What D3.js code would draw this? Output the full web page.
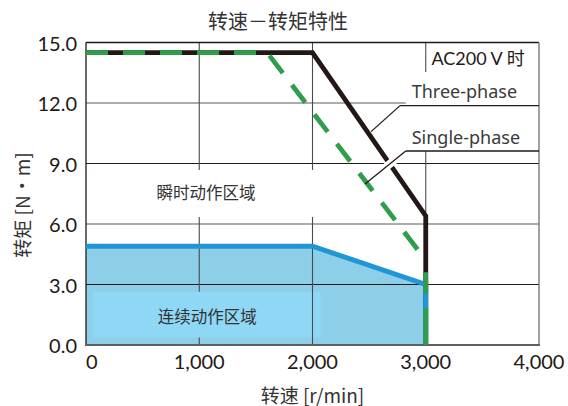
<!DOCTYPE html>
<html>
<head>
<meta charset="utf-8">
<script src="https://cdn.jsdelivr.net/npm/d3@7"></script>
<style>
  body { margin: 0; background: #fff; }
  svg { display: block; }
  .cjk { font-family: "Noto Sans CJK SC", sans-serif; fill: #333; }
  .num { font-family: Lato, "Noto Sans CJK SC", sans-serif; fill: #231815; }
  .lbl { font-family: "Noto Sans", sans-serif; fill: #3a3a3a; }
</style>
</head>
<body>
<svg id="chart"></svg>
<script>
// values
const speedTicks = [0, 1000, 2000, 3000, 4000];
const torqueTicks = [0, 3, 6, 9, 12, 15];
const threePhase = [[0, 14.5], [2000, 14.5], [3000, 6.4], [3000, 0]];
const singlePhase = [[0, 14.5], [1600, 14.5], [3000, 4.2], [3000, 0]];
const continuous = [[0, 4.9], [2000, 4.9], [3000, 3.0], [3000, 0]];

const W = 568, H = 406;
const margin = { top: 42.5, right: 29, bottom: 61, left: 86 };

const svg = d3.select("#chart").attr("width", W).attr("height", H);

const x = d3.scaleLinear().domain([0, 4000]).range([margin.left, W - margin.right]);
const y = d3.scaleLinear().domain([0, 15]).range([H - margin.bottom, margin.top]);

const line = d3.line().x(d => x(d[0])).y(d => y(d[1]));

// continuous operating area fill
svg.append("path")
  .datum([[0, 0]].concat(continuous))
  .attr("d", d => line(d) + "Z")
  .attr("fill", "#8dcee9");

// horizontal grid
svg.selectAll(".hgrid")
  .data(torqueTicks.filter(t => t > 0 && t < 15))
  .enter().append("line")
  .attr("class", "hgrid")
  .attr("x1", x(0))
  .attr("x2", t => t === 12 ? x(2823) : x(4000))
  .attr("y1", t => y(t)).attr("y2", t => y(t))
  .attr("stroke", t => t === 3 || t === 9 ? "#231815" : "#5a5a5a")
  .attr("stroke-width", 1.1);

// vertical grid segments (gaps where labels sit)
const vSegs = [
  [1000, 15, 8.68], [1000, 6.35, 0],
  [2000, 15, 8.68], [2000, 6.35, 0],
  [3000, 15, 13.54], [3000, 9.62, 0]
];
function drawV(segs) {
  svg.selectAll(null).data(segs).enter().append("line")
    .attr("x1", d => x(d[0])).attr("x2", d => x(d[0]))
    .attr("y1", d => y(d[1])).attr("y2", d => y(d[2]))
    .attr("stroke", "#4a4a4a")
    .attr("stroke-width", 1.1);
}
drawV(vSegs.filter(d => d[0] === 1000));

// label box of continuous area
svg.append("rect")
  .attr("x", x(60)).attr("width", x(2070) - x(60))
  .attr("y", y(2.64)).attr("height", y(0.37) - y(2.64))
  .attr("fill", "#8fd8f5");

drawV(vSegs.filter(d => d[0] !== 1000));

// frame
svg.append("line").attr("x1", x(0)).attr("x2", x(4000)).attr("y1", y(15)).attr("y2", y(15))
  .attr("stroke", "#231815").attr("stroke-width", 1.3);
svg.append("line").attr("x1", x(0)).attr("x2", x(0)).attr("y1", y(15)).attr("y2", y(0))
  .attr("stroke", "#231815").attr("stroke-width", 1.3);
svg.append("line").attr("x1", x(4000)).attr("x2", x(4000)).attr("y1", y(15)).attr("y2", y(0))
  .attr("stroke", "#6e6e6e").attr("stroke-width", 1.3);
svg.append("line").attr("x1", x(0) - 1).attr("x2", x(4000) + 1).attr("y1", y(0)).attr("y2", y(0))
  .attr("stroke", "#5f5f5f").attr("stroke-width", 2);

// curves
svg.append("path").datum(threePhase).attr("d", line)
  .attr("fill", "none").attr("stroke", "#231815").attr("stroke-width", 4.8)
  .attr("stroke-linejoin", "miter");
svg.append("path").datum(continuous).attr("d", line)
  .attr("fill", "none").attr("stroke", "#1f96d5").attr("stroke-width", 5)
  .attr("stroke-linejoin", "miter");
// single-phase: sloped part and the vertical drop carry their own dash phase
svg.append("path").datum(singlePhase.slice(0, 3)).attr("d", line)
  .attr("fill", "none").attr("stroke", "#2f9e4a").attr("stroke-width", 4.8)
  .attr("stroke-dasharray", "22,15");
svg.append("path").datum(singlePhase.slice(2)).attr("d", line)
  .attr("fill", "none").attr("stroke", "#2f9e4a").attr("stroke-width", 4.8)
  .attr("stroke-dasharray", "0,12,21,15,60,100");

// leader lines to the series labels
const leaders = [
  { name: "Three-phase", text: [2876, 12.25], under: [2773, 11.87], tip: [2517, 10.58], halo: false },
  { name: "Single-phase", text: [2876, 9.97], under: [2823, 9.62], tip: [2464, 7.98], halo: true }
];
leaders.forEach(l => {
  const p0 = [x(l.under[0]), y(l.under[1])];
  const p1 = [x(l.tip[0]), y(l.tip[1])];
  if (l.halo) {
    const a = d3.interpolateArray(p0, p1);
    svg.append("line")
      .attr("x1", a(0.12)[0]).attr("y1", a(0.12)[1])
      .attr("x2", a(0.78)[0]).attr("y2", a(0.78)[1])
      .attr("stroke", "#fff").attr("stroke-width", 8);
  }
  svg.append("line").attr("x1", p0[0]).attr("y1", p0[1]).attr("x2", x(4000)).attr("y2", p0[1])
    .attr("stroke", "#231815").attr("stroke-width", 1.3);
  svg.append("line").attr("x1", p0[0]).attr("y1", p0[1]).attr("x2", p1[0]).attr("y2", p1[1])
    .attr("stroke", "#231815").attr("stroke-width", 1.3);
  svg.append("text").attr("class", "lbl")
    .attr("x", x(l.text[0])).attr("y", y(l.text[1]))
    .attr("font-size", 18)
    .text(l.name);
});

// voltage note
svg.append("text").attr("class", "num")
  .attr("x", x(3050)).attr("y", y(14.25))
  .attr("dominant-baseline", "central")
  .attr("font-size", 18).attr("fill", "#231815")
  .text("AC200 V 时");

// area labels
svg.append("text").attr("class", "cjk")
  .attr("x", x(1060)).attr("y", y(7.6))
  .attr("text-anchor", "middle").attr("dominant-baseline", "central")
  .attr("font-size", 16.5)
  .text("瞬时动作区域");
svg.append("text").attr("class", "cjk")
  .attr("x", x(1070)).attr("y", y(1.43))
  .attr("text-anchor", "middle").attr("dominant-baseline", "central")
  .attr("font-size", 16.5)
  .text("连续动作区域");

// tick labels
svg.selectAll(".ytick").data(torqueTicks).enter().append("text")
  .attr("class", "num")
  .attr("x", x(0) - 9).attr("y", t => y(t))
  .attr("text-anchor", "end").attr("dominant-baseline", "central")
  .attr("font-size", 20)
  .text(d3.format(".1f"));
svg.selectAll(".xtick").data(speedTicks).enter().append("text")
  .attr("class", "num")
  .attr("x", t => x(t)).attr("y", y(0) + 24)
  .attr("text-anchor", t => t === 0 ? "start" : "middle")
  .attr("font-size", 20)
  .text(d3.format(","));

// titles
svg.append("text").attr("class", "cjk")
  .attr("x", 278).attr("y", 20)
  .attr("text-anchor", "middle").attr("dominant-baseline", "central")
  .attr("font-size", 20)
  .text("转速－转矩特性");
svg.append("text").attr("class", "cjk")
  .attr("x", x(2000)).attr("y", 394)
  .attr("text-anchor", "middle").attr("dominant-baseline", "central")
  .attr("font-size", 19)
  .text("转速 [r/min]");
svg.append("text").attr("class", "cjk")
  .attr("transform", "translate(21,205) rotate(-90)")
  .attr("text-anchor", "middle").attr("dominant-baseline", "central")
  .attr("font-size", 19)
  .text("转矩 [N・m]");
</script>
</body>
</html>
